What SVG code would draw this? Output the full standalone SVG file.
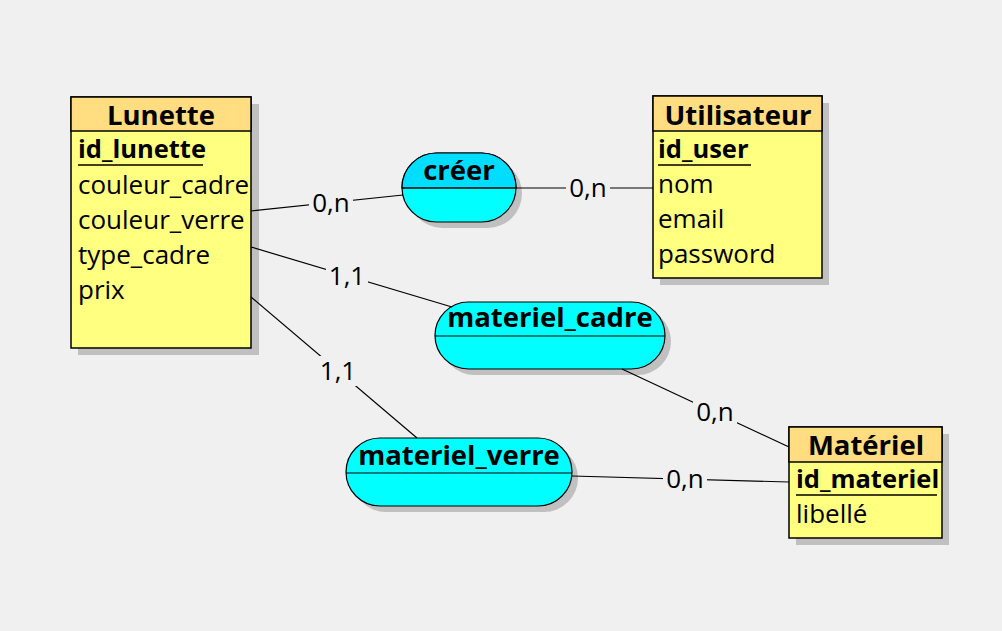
<svg xmlns="http://www.w3.org/2000/svg" width="1002" height="631" viewBox="0 0 1002 631">
<style>
.shadow{fill:#c0c0c0}
.ehead{fill:#ffdd80;stroke:#000;stroke-width:1.5}
.ebody{fill:#ffff80;stroke:#000;stroke-width:1.5}
.rel{fill:#00ffff;stroke:#000;stroke-width:1.2}
.div{stroke:#000;stroke-width:1.2}
.title{font-family:"Open Sans","Noto Sans",sans-serif;font-weight:bold;font-size:27.5px;text-anchor:middle;fill:#000}
.attr{font-family:"Open Sans","Noto Sans",sans-serif;font-size:26px;fill:#000}
.key{font-family:"Open Sans","Noto Sans",sans-serif;font-size:25.5px;font-weight:bold;fill:#000}
.ul{stroke:#000;stroke-width:1.5}
.card{font-family:"Open Sans","Noto Sans",sans-serif;font-size:26px;text-anchor:middle;fill:#000}
.cbg{fill:#f0f0f0}
.link{stroke:#000;stroke-width:1.2;fill:none}
</style>
<rect x="0" y="0" width="1002" height="631" fill="#f0f0f0"/>
<g id="Lunette">
<rect class="shadow" x="78" y="104" width="181" height="251"/>
<rect class="ebody" x="71" y="97" width="180" height="251"/>
<rect class="ehead" x="71" y="97" width="180" height="34"/>
<text class="title" x="161" y="125">Lunette</text>
<text class="key" x="78" y="158">id_lunette</text>
<line class="ul" x1="78" y1="165" x2="203" y2="165"/>
<text class="attr" x="78" y="194">couleur_cadre</text>
<text class="attr" x="78" y="229">couleur_verre</text>
<text class="attr" x="78" y="264">type_cadre</text>
<text class="attr" x="78" y="299">prix</text>
</g>
<g id="Utilisateur">
<rect class="shadow" x="660" y="103" width="169" height="182"/>
<rect class="ebody" x="653" y="96" width="169" height="182"/>
<rect class="ehead" x="653" y="96" width="169" height="35"/>
<text class="title" x="738" y="125">Utilisateur</text>
<text class="key" x="658" y="158">id_user</text>
<line class="ul" x1="658" y1="165" x2="751" y2="165"/>
<text class="attr" x="658" y="193">nom</text>
<text class="attr" x="658" y="228">email</text>
<text class="attr" x="658" y="263">password</text>
</g>
<g id="Materiel">
<rect class="shadow" x="796" y="434" width="153" height="111"/>
<rect class="ebody" x="789" y="427" width="153" height="111"/>
<rect class="ehead" x="789" y="427" width="153" height="35"/>
<text class="title" x="866" y="455">Matériel</text>
<text class="key" x="796" y="488">id_materiel</text>
<line class="ul" x1="796" y1="495" x2="937" y2="495"/>
<text class="attr" x="796" y="523">libellé</text>
</g>
<g id="creer">
<rect class="shadow" x="408" y="159" width="114" height="69" rx="34.5"/>
<rect class="rel" x="402" y="153" width="114" height="69" rx="34.5"/>
<path d="M402 188 L402 187.5 A34.5 34.5 0 0 1 436.5 153 L481.5 153 A34.5 34.5 0 0 1 516 187.5 L516 188 Z" fill="#00ddff" stroke="#000" stroke-width="1.2"/>
<line class="div" x1="402" y1="188" x2="516" y2="188"/>
<text class="title" x="459" y="180">créer</text>
</g>
<g id="materiel_cadre">
<rect class="shadow" x="441" y="308" width="230" height="67" rx="33.5"/>
<rect class="rel" x="435" y="302" width="230" height="67" rx="33.5"/>
<line class="div" x1="435" y1="336" x2="665" y2="336"/>
<text class="title" x="550" y="327">materiel_cadre</text>
</g>
<g id="materiel_verre">
<rect class="shadow" x="352" y="444" width="226" height="68" rx="34"/>
<rect class="rel" x="346" y="438" width="226" height="68" rx="34"/>
<line class="div" x1="346" y1="473" x2="572" y2="473"/>
<text class="title" x="459" y="465">materiel_verre</text>
</g>
<g id="connectors">
<line class="link" x1="251" y1="211" x2="403" y2="195"/>
<line class="link" x1="516" y1="188" x2="653" y2="188"/>
<line class="link" x1="251" y1="247" x2="452" y2="307"/>
<line class="link" x1="251" y1="297" x2="417" y2="438"/>
<line class="link" x1="622" y1="369" x2="789" y2="447"/>
<line class="link" x1="572" y1="476" x2="789" y2="482"/>
<rect class="cbg" x="309" y="188" width="44" height="30"/>
<text class="card" x="331" y="212">0,n</text>
<rect class="cbg" x="566" y="172" width="44" height="30"/>
<text class="card" x="588" y="197">0,n</text>
<rect class="cbg" x="326" y="261" width="42" height="30"/>
<text class="card" x="347" y="285">1,1</text>
<rect class="cbg" x="317" y="356" width="42" height="30"/>
<text class="card" x="338" y="380">1,1</text>
<rect class="cbg" x="693" y="397" width="44" height="30"/>
<text class="card" x="715" y="421">0,n</text>
<rect class="cbg" x="663" y="464" width="44" height="30"/>
<text class="card" x="685" y="488">0,n</text>
</g>
</svg>
